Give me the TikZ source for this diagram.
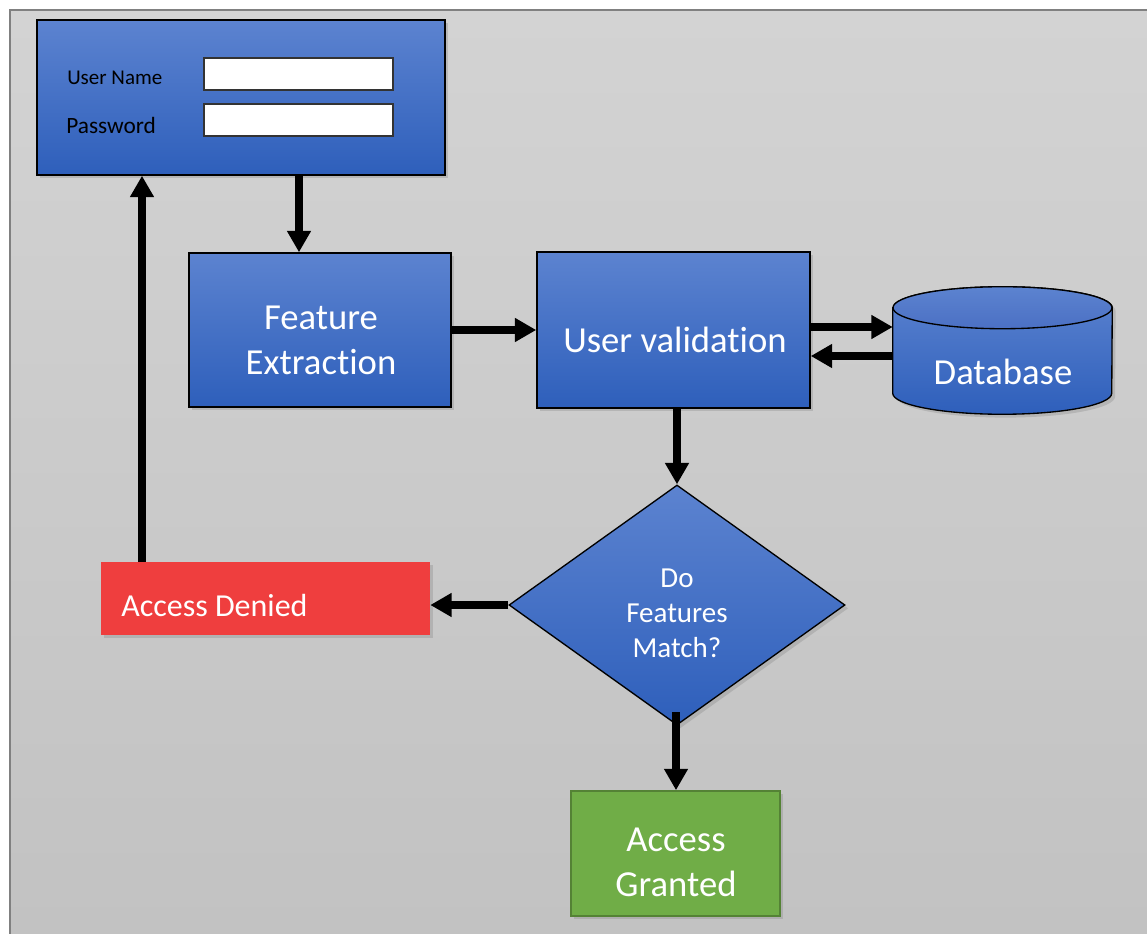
\documentclass[tikz,border=0pt]{standalone}
\usepackage{fontspec}
\setmainfont{Carlito}[RawFeature={-liga;-clig;-calt;-dlig}]
\usetikzlibrary{shapes.geometric,arrows.meta,shadows,calc}
\definecolor{bTop}{RGB}{92,131,208}
\definecolor{bBot}{RGB}{46,95,187}
\definecolor{bMid}{RGB}{75,112,196}
\definecolor{pTop}{RGB}{211,211,211}
\definecolor{pBot}{RGB}{194,194,194}
\definecolor{pEdge}{RGB}{128,128,128}
\definecolor{redA}{RGB}{239,62,62}
\definecolor{grnA}{RGB}{112,173,71}
\definecolor{grnE}{RGB}{84,130,53}
\begin{document}
\begin{tikzpicture}[x=0.75pt,y=-0.75pt,
  shadowed/.style={drop shadow={shadow xshift=2.5pt,shadow yshift=-2.5pt,opacity=0.3}},
  bluebox/.style={rectangle, draw=black, line width=1.1pt, top color=bTop, bottom color=bBot, shadowed, inner sep=0pt},
  field/.style={rectangle, draw=black!80, line width=0.8pt, fill=white, minimum width=141.75pt, minimum height=24pt, inner sep=0pt},
  lbl/.style={text=white, align=center, inner sep=0pt},
  big/.style={font=\fontsize{27.5}{33.75}\selectfont},
  arr/.style={line width=6pt, -{Triangle[length=16pt,width=17pt]}},
]
\useasboundingbox (0,0) rectangle (1147,934);
% panel
\shade[top color=pTop,bottom color=pBot] (10,11) rectangle (1147,934);
\draw[pEdge,line width=1.5pt] (1147,10.5) -- (9.5,10.5) -- (9.5,934);

% login box
\node[bluebox, minimum width=306pt, minimum height=116.25pt] (login) at (241,97.5) {};
\node[field] (unf) at (298.5,74) {};
\node[field] (pwf) at (298.5,120) {};
\node[anchor=west, inner sep=0pt, font=\fontsize{15.75}{18}\selectfont] (unl) at (67,78) {User Name};
\node[anchor=west, inner sep=0pt, font=\fontsize{17.5}{20}\selectfont] (pwl) at (66,125) {Password};

% feature extraction
\node[bluebox, minimum width=196.5pt, minimum height=115.5pt] (fe) at (320,330) {};
\node[lbl,big] (fet) at (321,340) {Feature\\Extraction};

% user validation
\node[bluebox, minimum width=204.75pt, minimum height=117pt] (uv) at (673.5,330) {};
\node[lbl,big] (uvt) at (675,340) {User validation};

% database
\node[minimum width=164.25pt, minimum height=95.25pt, inner sep=0pt] (db) at (1002.5,350.5) {};
\path[shadowed, draw=black, line width=1pt, top color=bTop, bottom color=bBot]
  ($(db.north west)+(0,21)$) -- ($(db.south west)+(0,-21)$)
  arc[start angle=180,end angle=360,x radius=82.125pt,y radius=15.75pt]
  -- ($(db.north east)+(0,21)$)
  arc[start angle=0,end angle=180,x radius=82.125pt,y radius=15.75pt] -- cycle;
\path[draw=black, line width=1pt, top color=bTop, bottom color=bMid]
  ($(db.north)+(0,21)$) ellipse[x radius=82.125pt,y radius=15.75pt];
\node[lbl,big] (dbt) at (1003,372) {Database};

% decision
\node[diamond, draw=black, line width=1pt, top color=bTop, bottom color=bBot, shadowed,
      minimum width=252pt, minimum height=180pt, inner sep=0pt] (dec) at (677,605) {};
\node[lbl, font=\fontsize{21.75}{26.25}\selectfont] (dect) at (677,613) {Do\\Features\\Match?};

% access denied
\node[rectangle, fill=redA, shadowed, minimum width=246.75pt, minimum height=54.75pt, inner sep=0pt] (den) at (265.5,598.5) {};
\node[anchor=west, text=white, inner sep=0pt, font=\fontsize{24}{29}\selectfont] (dent) at (121,606) {Access Denied};

% access granted
\node[rectangle, fill=grnA, draw=grnE, line width=1.2pt, shadowed, minimum width=156.75pt, minimum height=93.75pt, inner sep=0pt] (gr) at (675.5,853.5) {};
\node[lbl,big] (grt) at (676,862) {Access\\Granted};

% connectors
\coordinate (c1) at (299,0);
\coordinate (c2) at (0,327);
\coordinate (c3) at (0,356);
\coordinate (c4) at (142,0);
\coordinate (c5) at (676,712);
\draw[arr] (login.south -| c1) -- (fe.north -| c1);
\draw[arr] (fe.east) -- (uv.west);
\draw[arr] (uv.east |- c2) -- (db.west |- c2);
\draw[arr] (db.west |- c3) -- (uv.east |- c3);
\draw[arr] (uv.south -| dec.north) -- (dec.north);
\draw[arr] (dec.west) -- (den.east |- dec.west);
\draw[arr] (c5) -- (gr.north -| c5);
\draw[arr] (den.north -| c4) -- (login.south -| c4);
\end{tikzpicture}
\end{document}
